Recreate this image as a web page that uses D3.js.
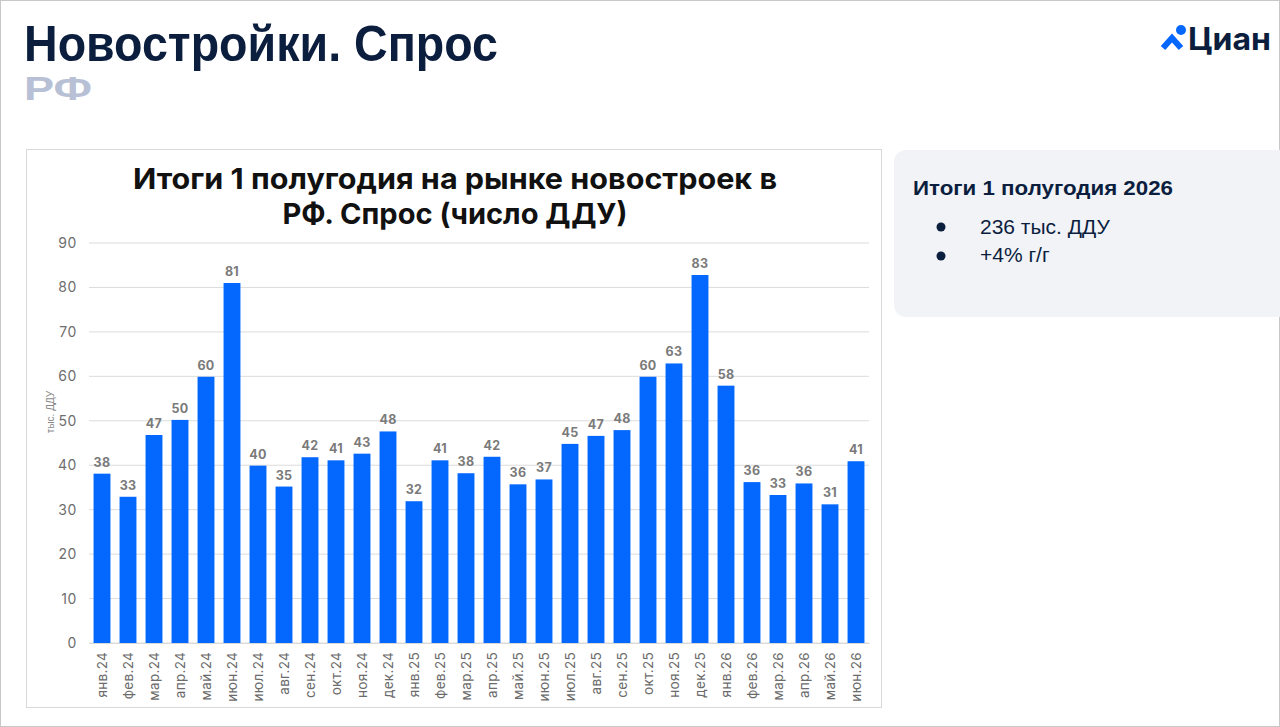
<!DOCTYPE html>
<html><head><meta charset="utf-8">
<script src="https://cdn.jsdelivr.net/npm/d3@7"></script>
<style>
html,body{margin:0;padding:0;background:#fff;}
svg{display:block;}
</style></head>
<body>
<svg id="c" width="1280" height="727"></svg>
<script>
const categories = ["янв.24","фев.24","мар.24","апр.24","май.24","июн.24","июл.24","авг.24","сен.24","окт.24","ноя.24","дек.24",
  "янв.25","фев.25","мар.25","апр.25","май.25","июн.25","июл.25","авг.25","сен.25","окт.25","ноя.25","дек.25",
  "янв.26","фев.26","мар.26","апр.26","май.26","июн.26"];
const values = [38.1,32.9,46.8,50.2,59.9,81.0,39.9,35.2,41.8,41.1,42.6,47.6,
  31.9,41.1,38.2,41.9,35.7,36.8,44.8,46.6,47.9,59.9,62.9,82.8,
  57.9,36.2,33.3,35.9,31.2,40.9];
const yTicks = [0,10,20,30,40,50,60,70,80,90];
const chartTitle = ["Итоги 1 полугодия на рынке новостроек в","РФ. Спрос (число ДДУ)"];
const yAxisTitle = "тыс. ДДУ";
const pageTitle = "Новостройки. Спрос";
const pageSubtitle = "РФ";
const panelTitle = "Итоги 1 полугодия 2026";
const panelBullets = ["236 тыс. ДДУ","+4% г/г"];

const svg = d3.select("#c");
// page border
svg.append("rect").attr("x",0.5).attr("y",0.5).attr("width",1279).attr("height",726)
  .attr("fill","#fff").attr("stroke","#c8c8c8");

// page title
svg.append("text").attr("x",24).attr("y",61).text(pageTitle)
  .attr("font-family","Liberation Sans, Arial, sans-serif").attr("font-weight",700)
  .attr("font-size",50).attr("fill","#0c1e3e")
  .attr("textLength",474).attr("lengthAdjust","spacingAndGlyphs");
svg.append("text").attr("x",24).attr("y",100).text(pageSubtitle)
  .attr("font-family","Liberation Sans, Arial, sans-serif").attr("font-weight",700)
  .attr("font-size",34).attr("fill","#b7c0d5")
  .attr("textLength",68).attr("lengthAdjust","spacingAndGlyphs");

// logo
const lg = svg.append("g");
lg.append("circle").attr("cx",1181).attr("cy",30).attr("r",5).attr("fill","#0468ff");
lg.append("path").attr("d","M1163,48 L1172,38 L1181,48").attr("fill","none")
  .attr("stroke","#0468ff").attr("stroke-width",6).attr("stroke-linejoin","miter");
lg.append("text").attr("x",1188).attr("y",50).text("Циан")
  .attr("font-family","Inter, Liberation Sans, sans-serif").attr("font-weight",700)
  .attr("font-size",31).attr("fill","#0c1e3e")
  .attr("textLength",83).attr("lengthAdjust","spacingAndGlyphs");

// chart frame
svg.append("rect").attr("x",26.5).attr("y",149.5).attr("width",855).attr("height",558)
  .attr("fill","#fff").attr("stroke","#d9d9d9");

// chart title
const ctLens = [644,345];
chartTitle.forEach((t,i)=>svg.append("text").attr("text-anchor","middle")
  .attr("x",455).attr("y",189+i*35).text(t)
  .attr("font-family","Inter, Liberation Sans, sans-serif").attr("font-weight",700)
  .attr("font-size",29).attr("fill","#111")
  .attr("textLength",ctLens[i]).attr("lengthAdjust","spacingAndGlyphs"));

const x = d3.scaleBand().domain(categories).range([89,869]).paddingInner(0.35).paddingOuter(0.175);
const y = d3.scaleLinear().domain([0,90]).range([643,243]);

// gridlines
svg.append("g").selectAll("line").data(yTicks).join("line")
  .attr("x1",89).attr("x2",869).attr("y1",d=>y(d)).attr("y2",d=>y(d))
  .attr("stroke","#dcdcdc").attr("stroke-width",1);

// y axis
const ya = svg.append("g").attr("transform","translate(89,0)")
  .call(d3.axisLeft(y).tickValues(yTicks).tickSize(0).tickPadding(12));
ya.select(".domain").remove();
ya.selectAll("text").attr("font-family","Inter, Liberation Sans, sans-serif")
  .attr("font-size",14).attr("letter-spacing",0.6).attr("fill","#6e6e6e");

svg.append("text").attr("transform","translate(54,412) rotate(-90)")
  .attr("text-anchor","middle").text(yAxisTitle)
  .attr("font-family","Liberation Sans, Arial, sans-serif").attr("font-size",10).attr("fill","#8a8a8a");

// bars
svg.append("g").selectAll("rect").data(values).join("rect")
  .attr("x",(d,i)=>x(categories[i])).attr("width",x.bandwidth())
  .attr("y",d=>y(d)).attr("height",d=>y(0)-y(d)).attr("fill","#0468ff");

// data labels
svg.append("g").selectAll("text").data(values).join("text")
  .attr("x",(d,i)=>x(categories[i])+x.bandwidth()/2).attr("y",d=>y(d)-7)
  .attr("text-anchor","middle").text(d=>Math.round(d))
  .attr("font-family","Inter, Liberation Sans, sans-serif").attr("font-weight",700)
  .attr("font-size",12.5).attr("letter-spacing",0.3).attr("fill","#7a7a7a");

// x axis
const xa = svg.append("g").attr("transform","translate(0,643)")
  .call(d3.axisBottom(x).tickSize(0).tickPadding(0));
xa.select(".domain").attr("stroke","#d9d9d9");
xa.selectAll("text").attr("transform","rotate(-90)").attr("text-anchor","end")
  .attr("x",-9).attr("y",0).attr("dy","0.35em")
  .attr("font-family","Inter, Liberation Sans, sans-serif").attr("font-size",13.5)
  .attr("letter-spacing",0.3).attr("fill","#6b6b6b");

// right panel
svg.append("rect").attr("x",894).attr("y",150).attr("width",400).attr("height",167).attr("rx",12)
  .attr("fill","#f1f3f7");
svg.append("text").attr("x",913).attr("y",195).text(panelTitle)
  .attr("font-family","Liberation Sans, Arial, sans-serif").attr("font-weight",700)
  .attr("font-size",21).attr("fill","#0c1e3e")
  .attr("textLength",260).attr("lengthAdjust","spacingAndGlyphs");
panelBullets.forEach((t,i)=>{
  svg.append("circle").attr("cx",941).attr("cy",227+i*29).attr("r",4.5).attr("fill","#0c1e3e");
  svg.append("text").attr("x",980).attr("y",234+i*28).text(t)
    .attr("font-family","Liberation Sans, Arial, sans-serif").attr("font-size",21).attr("fill","#0c1e3e");
});
</script>
</body></html>
